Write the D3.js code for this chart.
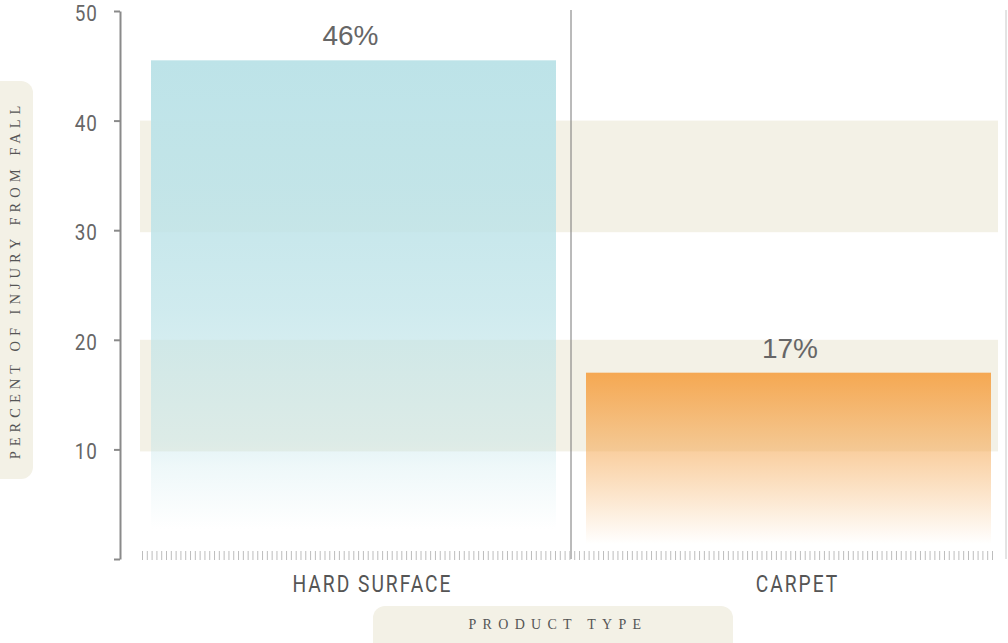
<!DOCTYPE html>
<html>
<head>
<meta charset="utf-8">
<script src="https://cdn.jsdelivr.net/npm/d3@7"></script>
<style>
  html, body { margin: 0; padding: 0; background: #fff; }
  svg { display: block; }
</style>
</head>
<body>
<svg id="chart" width="1008" height="643"></svg>
<script>
const categories = ["HARD SURFACE", "CARPET"];
const values = [45.5, 17];
const valueLabels = ["46%", "17%"];
const yTicks = [10, 20, 30, 40, 50];
const bandRanges = [[10, 20], [30, 40]];
const yTitle = "PERCENT OF INJURY FROM FALL";
const xTitle = "PRODUCT TYPE";

const svg = d3.select("#chart");

const y = d3.scaleLinear().domain([0, 50]).range([559, 11]);
const x = d3.scaleBand().domain(categories).range([136, 1006]).padding(0);
const condFont = "Roboto, 'Liberation Sans', sans-serif";

const defs = svg.append("defs");
const grads = [
  { id: "gHard", color: "#bde3e8", stops: [[0, 1], [0.25, 0.9], [0.5, 0.72], [0.76, 0.42], [0.82, 0.24], [0.94, 0]] },
  { id: "gCarpet", color: "#f5a852", stops: [[0, 1], [0.45, 0.52], [0.7, 0.25], [0.92, 0]] }
];
grads.forEach(g => {
  const lg = defs.append("linearGradient").attr("id", g.id)
    .attr("x1", 0).attr("y1", 0).attr("x2", 0).attr("y2", 1);
  g.stops.forEach(s => lg.append("stop")
    .attr("offset", s[0]).attr("stop-color", g.color).attr("stop-opacity", s[1]));
});

// background bands
svg.append("g").selectAll("rect").data(bandRanges).join("rect")
  .attr("x", 140).attr("width", 858)
  .attr("y", d => y(d[1])).attr("height", d => y(d[0]) - y(d[1]) + 2)
  .attr("fill", "#f3f1e6");

// bars
const bw = x.bandwidth();
svg.append("g").selectAll("rect").data(categories).join("rect")
  .attr("x", d => x(d) + 15)
  .attr("width", bw - 30)
  .attr("y", (d, i) => y(values[i]))
  .attr("height", (d, i) => y(0) - y(values[i]))
  .attr("fill", (d, i) => i === 0 ? "url(#gHard)" : "url(#gCarpet)");

// value labels
svg.append("g").selectAll("text").data(categories).join("text")
  .attr("x", (d, i) => x(d) + bw / 2 + (i === 0 ? -3 : 1.5))
  .attr("y", (d, i) => y(values[i]) - 15)
  .attr("text-anchor", "middle")
  .attr("font-family", "'Liberation Sans', Arial, sans-serif")
  .attr("font-size", 28)
  .attr("fill", "#666")
  .text((d, i) => valueLabels[i]);

// category divider lines
svg.append("g").selectAll("line").data(categories).join("line")
  .attr("x1", d => x(d) + bw).attr("x2", d => x(d) + bw)
  .attr("y1", 10).attr("y2", 559)
  .attr("stroke", (d, i) => i === 0 ? "#777" : "#c8c8c8").attr("stroke-width", 1);

// minor decorative ticks along bottom
const nMinor = 178;
const mx = d3.scaleLinear().domain([0, nMinor - 1]).range([142.5, 992.5]);
svg.append("g").selectAll("line").data(d3.range(nMinor)).join("line")
  .attr("x1", d => mx(d)).attr("x2", d => mx(d))
  .attr("y1", 551).attr("y2", 560)
  .attr("stroke", "#bdbdbd").attr("stroke-width", 1);

// y axis
const yAxis = d3.axisLeft(y).tickValues([0].concat(yTicks)).tickSize(6).tickSizeOuter(0)
  .tickFormat("");
const ya = svg.append("g").attr("transform", "translate(120,0)").call(yAxis);
ya.select(".domain").attr("stroke", "#8a8a8a").attr("stroke-width", 2);
ya.selectAll(".tick line").attr("stroke", "#8a8a8a").attr("stroke-width", 2);
svg.append("g").selectAll("text").data(yTicks).join("text")
  .attr("transform", d => `translate(98,${y(d) + 10}) scale(0.84,1)`)
  .attr("text-anchor", "end")
  .attr("font-family", condFont)
  .attr("font-size", 22.5).attr("letter-spacing", 1.2)
  .attr("fill", "#666")
  .text(d => d);

// category labels
svg.append("g").selectAll("text").data(categories).join("text")
  .attr("transform", (d, i) => `translate(${x(d) + bw / 2 + (i === 0 ? 19 : 9)},592) scale(0.8,1)`)
  .attr("text-anchor", "middle")
  .attr("font-family", condFont)
  .attr("font-size", 24).attr("letter-spacing", 2.5)
  .attr("fill", "#555")
  .text(d => d);

// x title box
svg.append("rect").attr("x", 373).attr("y", 606).attr("width", 360).attr("height", 50)
  .attr("rx", 12).attr("fill", "#f3f1e6");
svg.append("text").attr("x", 558).attr("y", 629)
  .attr("text-anchor", "middle")
  .attr("font-family", "'Liberation Serif', 'DejaVu Serif', serif")
  .attr("font-size", 14).attr("letter-spacing", 6.3)
  .attr("fill", "#555")
  .text(xTitle);

// y title box
svg.append("rect").attr("x", -20).attr("y", 81).attr("width", 53).attr("height", 398)
  .attr("rx", 12).attr("fill", "#f3f1e6");
svg.append("text")
  .attr("transform", "translate(20,280) rotate(-90)")
  .attr("text-anchor", "middle")
  .attr("font-family", "'Liberation Serif', 'DejaVu Serif', serif")
  .attr("font-size", 14.5).attr("letter-spacing", 5)
  .attr("fill", "#555")
  .text(yTitle);
</script>
</body>
</html>
